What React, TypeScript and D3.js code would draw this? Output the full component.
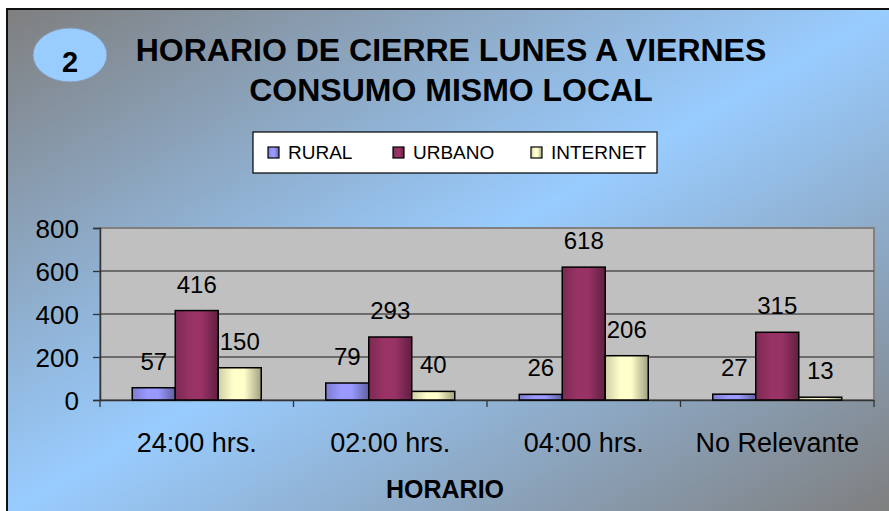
import React, { useEffect, useRef } from 'react';
import * as d3 from 'd3';

// datos del grafico
const categories = ['24:00 hrs.', '02:00 hrs.', '04:00 hrs.', 'No Relevante'];
const seriesNames = ['RURAL', 'URBANO', 'INTERNET'];
const rural = [57, 79, 26, 27];
const urbano = [416, 293, 618, 315];
const internet = [150, 40, 206, 13];
const yTicks = [0, 200, 400, 600, 800];
const titleLines = ['HORARIO DE CIERRE LUNES A VIERNES', 'CONSUMO MISMO LOCAL'];

const baseColors = ['#9999ff', '#993366', '#ffffcc'];
const FONT = "Arial, 'Liberation Sans', sans-serif";

export default function App() {
  const ref = useRef<SVGSVGElement>(null);

  useEffect(() => {
    const svg = d3.select(ref.current);
    svg.selectAll('*').remove();

    const W = 889;
    const H = 511;
    const plot = { left: 100, right: 874, top: 228, bottom: 400 };

    const defs = svg.append('defs');
    // fondo degradado gris -> azul -> gris
    const bg = defs
      .append('linearGradient')
      .attr('id', 'bgGrad')
      .attr('x1', 0)
      .attr('y1', 0)
      .attr('x2', 1)
      .attr('y2', 1);
    bg.append('stop').attr('offset', '0%').attr('stop-color', '#7f7f7f');
    bg.append('stop').attr('offset', '50%').attr('stop-color', '#99ccff');
    bg.append('stop').attr('offset', '100%').attr('stop-color', '#7f7f7f');

    // degradado de cada barra
    baseColors.forEach((c, i) => {
      const g = defs
        .append('linearGradient')
        .attr('id', `barGrad${i}`)
        .attr('x1', 0)
        .attr('y1', 0)
        .attr('x2', 1)
        .attr('y2', 0);
      const base = d3.color(c)!;
      g.append('stop').attr('offset', '0%').attr('stop-color', base.darker(0.6).formatHex());
      g.append('stop').attr('offset', '35%').attr('stop-color', c);
      g.append('stop').attr('offset', '60%').attr('stop-color', c);
      g.append('stop').attr('offset', '100%').attr('stop-color', base.darker(1.3).formatHex());
    });

    // area del grafico
    svg
      .append('rect')
      .attr('x', 7)
      .attr('y', 9)
      .attr('width', W - 6)
      .attr('height', H - 8)
      .attr('fill', 'url(#bgGrad)')
      .attr('stroke', '#111')
      .attr('stroke-width', 2);

    // ovalo con numero
    svg
      .append('ellipse')
      .attr('cx', 70)
      .attr('cy', 55)
      .attr('rx', 37)
      .attr('ry', 27)
      .attr('fill', '#99ccff')
      .attr('stroke', '#8a9ab0')
      .attr('stroke-width', 1);
    svg
      .append('text')
      .attr('x', 70)
      .attr('y', 72)
      .attr('text-anchor', 'middle')
      .style('font-family', FONT)
      .style('font-weight', 'bold')
      .style('font-size', '29px')
      .text('2');

    // titulo
    titleLines.forEach((t, i) => {
      svg
        .append('text')
        .attr('x', 451)
        .attr('y', 61 + i * 40)
        .attr('text-anchor', 'middle')
        .style('font-family', FONT)
        .style('font-weight', 'bold')
        .style('font-size', '32px')
        .text(t);
    });

    // leyenda
    const legendG = svg.append('g').attr('class', 'legendBox');
    legendG
      .append('rect')
      .attr('x', 253)
      .attr('y', 132)
      .attr('width', 404)
      .attr('height', 41)
      .attr('fill', '#fff')
      .attr('stroke', '#000')
      .attr('stroke-width', 1.2);
    const legendX = [268, 393, 531];
    seriesNames.forEach((name, i) => {
      legendG
        .append('rect')
        .attr('x', legendX[i])
        .attr('y', 147)
        .attr('width', 11)
        .attr('height', 11)
        .attr('fill', `url(#barGrad${i})`)
        .attr('stroke', '#000')
        .attr('stroke-width', 1.2);
      legendG
        .append('text')
        .attr('x', legendX[i] + 20)
        .attr('y', 159)
        .style('font-family', FONT)
        .style('font-size', '19px')
        .text(name);
    });

    // escalas
    const x0 = d3
      .scaleBand()
      .domain(categories)
      .range([plot.left, plot.right])
      .padding(0);
    const x1 = d3
      .scaleBand()
      .domain(seriesNames)
      .range([0, x0.bandwidth()])
      .paddingInner(0)
      .paddingOuter(0.75);
    const y = d3.scaleLinear().domain([0, 800]).range([plot.bottom, plot.top]);

    // fondo del plot
    svg
      .append('rect')
      .attr('x', plot.left)
      .attr('y', plot.top)
      .attr('width', plot.right - plot.left)
      .attr('height', plot.bottom - plot.top)
      .attr('fill', '#c0c0c0')
      .attr('stroke', '#808080')
      .attr('stroke-width', 2);

    // lineas de division
    svg
      .append('g')
      .selectAll('line')
      .data(yTicks.filter((t) => t > 0 && t < 800))
      .enter()
      .append('line')
      .attr('x1', plot.left)
      .attr('x2', plot.right)
      .attr('y1', (d) => y(d))
      .attr('y2', (d) => y(d))
      .attr('stroke', '#505050')
      .attr('stroke-width', 1.3);

    // eje Y
    const axisY = d3.axisLeft(y).tickValues(yTicks).tickSize(7).tickPadding(14);
    const axisYG = svg
      .append('g')
      .attr('transform', `translate(${plot.left},0)`)
      .call(axisY);
    axisYG.select('.domain').attr('stroke', '#333').attr('stroke-width', 1.5);
    axisYG.selectAll('g.tick line').attr('stroke', '#333').attr('stroke-width', 1.3);
    axisYG
      .selectAll('g.tick text')
      .attr('fill', '#000')
      .attr('dy', '0.36em')
      .style('font-family', FONT)
      .style('font-size', '26px');

    // eje X
    const axisX = d3.axisBottom(x0).tickSize(0).tickPadding(33);
    const axisXG = svg
      .append('g')
      .attr('transform', `translate(0,${plot.bottom})`)
      .call(axisX);
    axisXG.select('.domain').attr('stroke', '#333').attr('stroke-width', 1.5);
    axisXG
      .selectAll('g.tick text')
      .attr('fill', '#000')
      .attr('dy', '0.71em')
      .style('font-family', FONT)
      .style('font-size', '27px');
    // marcas entre categorias
    const bounds = categories.map((c) => x0(c)!).concat([plot.right]);
    axisXG
      .selectAll('line.sep')
      .data(bounds)
      .enter()
      .append('line')
      .attr('class', 'sep')
      .attr('x1', (d) => d)
      .attr('x2', (d) => d)
      .attr('y1', 0)
      .attr('y2', 7)
      .attr('stroke', '#333')
      .attr('stroke-width', 1.3);

    // barras
    const allSeries = [rural, urbano, internet];
    allSeries.forEach((vals, si) => {
      const g = svg.append('g');
      g.selectAll('rect')
        .data(vals)
        .enter()
        .append('rect')
        .attr('x', (d, i) => x0(categories[i])! + x1(seriesNames[si])!)
        .attr('y', (d) => y(d))
        .attr('width', x1.bandwidth())
        .attr('height', (d) => y(0) - y(d))
        .attr('fill', `url(#barGrad${si})`)
        .attr('stroke', '#000')
        .attr('stroke-width', 1.5);
      g.selectAll('text')
        .data(vals)
        .enter()
        .append('text')
        .attr('x', (d, i) => x0(categories[i])! + x1(seriesNames[si])! + x1.bandwidth() / 2)
        .attr('y', (d) => y(d) - 18)
        .attr('text-anchor', 'middle')
        .style('font-family', FONT)
        .style('font-size', '24px')
        .text((d) => d);
    });

    // titulo eje X
    svg
      .append('text')
      .attr('x', 445)
      .attr('y', 498)
      .attr('text-anchor', 'middle')
      .style('font-family', FONT)
      .style('font-weight', 'bold')
      .style('font-size', '25px')
      .text('HORARIO');
  }, []);

  return (
    <>
      <style>{'body{margin:0}'}</style>
      <svg ref={ref} width={889} height={511} style={{ display: 'block' }} />
    </>
  );
}
